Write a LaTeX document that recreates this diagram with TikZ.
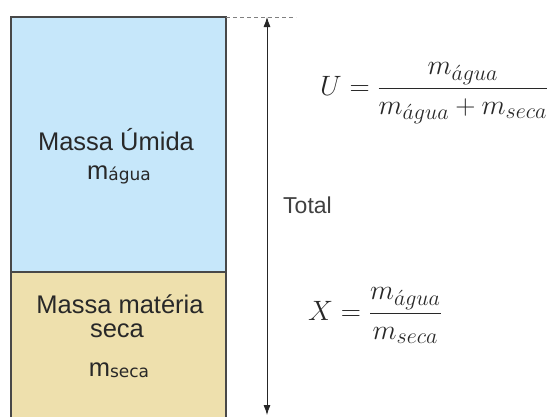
\RequirePackage{fix-cm}
\documentclass[tikz,border=0pt]{standalone}
\usepackage{amsmath}
\usepackage[no-math]{fontspec}
\setmainfont{Liberation Sans}
\newfontfamily\subfont{DejaVu Sans}
\usetikzlibrary{arrows.meta}

\definecolor{umidafill}{RGB}{198,231,250}
\definecolor{secafill}{RGB}{238,224,173}
\definecolor{borda}{RGB}{72,72,72}
\definecolor{texto}{RGB}{40,40,40}

\DeclareMathSizes{28}{28}{22}{16}
\newcommand{\msub}[1]{m{\subfont\fontsize{17}{17}\selectfont\raisebox{-1pt}{#1}}}

\begin{document}
\begin{tikzpicture}[x=1pt, y=-1pt,
	every node/.style={inner sep=0pt, text=texto},
	rotulo/.style={anchor=base, font=\fontsize{25.5}{28}\selectfont},
	formula/.style={anchor=base west, font=\fontsize{28}{32}\selectfont},
	camada/.style={draw=borda, line width=1.3pt}]
	\useasboundingbox (0,0) rectangle (553,416);
	% camadas da amostra
	\draw[camada, fill=umidafill] (11,17) rectangle (226,272);
	\draw[camada, fill=secafill] (11,272) rectangle (226,430);
	\node[rotulo] (umida) at (116,150) {Massa Úmida};
	\node[rotulo] (magua) at (119,179) {\msub{água}};
	\node[rotulo] (materia) at (120,313) {Massa matéria};
	\node[rotulo] (seca) at (117,337) {seca};
	\node[rotulo] (mseca) at (119,376) {\msub{seca}};
	% cota do total
	\coordinate (topo) at (267,17);
	\coordinate (base) at (267,415);
	\draw[gray, dashed, dash pattern=on 4pt off 3pt, line width=0.9pt] (226,17) -- (296,17);
	\draw[black!85, line width=0.8pt, {Latex[length=10pt,width=7pt]}-{Latex[length=10pt,width=7pt]}] (topo) -- (base);
	\node[anchor=base west, font=\fontsize{23}{26}\selectfont, text=black!75] (total) at (283,213) {Total};
	% formulas
	\node[formula] (eqU) at (320,95) {$\displaystyle U=\frac{m_{\acute{a}gua}}{m_{\acute{a}gua}+m_{seca}}$};
	\node[formula] (eqX) at (308,320) {$\displaystyle X=\frac{m_{\acute{a}gua}}{m_{seca}}$};
\end{tikzpicture}
\end{document}
